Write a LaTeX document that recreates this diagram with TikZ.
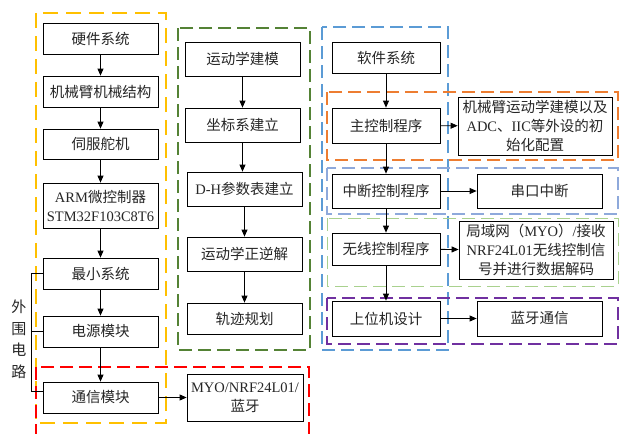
\documentclass[tikz,border=0pt]{standalone}
\usepackage{fontspec}
\setmainfont{Liberation Serif}
\newfontfamily\cjk{Noto Sans CJK SC}
\newcommand{\zh}[1]{{\cjk #1}}
\usetikzlibrary{arrows.meta,calc}
\definecolor{gyellow}{HTML}{FFC000}
\definecolor{ggreen}{HTML}{548235}
\definecolor{gred}{HTML}{FF0000}
\definecolor{gblue}{HTML}{5B9BD5}
\definecolor{gorange}{HTML}{ED7D31}
\definecolor{gperi}{HTML}{8EA9DB}
\definecolor{glgreen}{HTML}{A9D18E}
\definecolor{gpurple}{HTML}{7030A0}
\begin{document}
\begin{tikzpicture}[x=1pt,y=-1pt,
  bx/.style={draw=black,line width=0.8pt,align=center,inner sep=1pt,
    font=\fontsize{14.5pt}{19pt}\selectfont,text=black!85},
  arr/.style={line width=0.8pt,-{Triangle[length=7pt,width=6pt]}},
  grp/.style={line width=1.8pt,dash pattern=on 13pt off 6pt},
  ]
\clip (0,0) rectangle (619,434);
\fill[white] (0,0) rectangle (619,434);
% group frames
\draw[grp,gyellow,dash pattern=on 15pt off 8pt] (36,13) rectangle (166,423);
\draw[grp,ggreen] (178,28) rectangle (310,350);
\draw[grp,gred] (36,367) rectangle (309,445);
\draw[grp,gblue] (322,27) rectangle (448,350);
\draw[grp,gorange] (327,92) rectangle (618,160);
\draw[grp,gperi,line width=1.4pt] (327,168) rectangle (618,214);
\draw[grp,glgreen,line width=1pt] (327,218) rectangle (618,286);
\draw[grp,gpurple] (327,298) rectangle (618,344);
% column 1
\node[bx,minimum width=115pt,minimum height=31pt] (hw) at (100.5,38.5) {\zh{硬件系统}};
\node[bx,minimum width=115pt,minimum height=31pt] (mech) at (100.5,91.5) {\zh{机械臂机械结构}};
\node[bx,minimum width=115pt,minimum height=30pt] (servo) at (100.5,144) {\zh{伺服舵机}};
\node[bx,minimum width=115pt,minimum height=45pt] (arm) at (100.5,205.5) {ARM\zh{微控制器}\\STM32F103C8T6};
\node[bx,minimum width=115pt,minimum height=31pt] (minsys) at (100.5,273.5) {\zh{最小系统}};
\node[bx,minimum width=115pt,minimum height=31pt] (power) at (100.5,331.5) {\zh{电源模块}};
\node[bx,minimum width=115pt,minimum height=31pt] (comm) at (100.5,397.5) {\zh{通信模块}};
\draw[arr] (hw) -- (mech);
\draw[arr] (mech) -- (servo);
\draw[arr] (servo) -- (arm);
\draw[arr] (arm) -- (minsys);
\draw[arr] (minsys) -- (power);
\draw[arr] (power) -- (comm);
% bracket
\coordinate (brx) at (31,0);
\coordinate (comm3) at ([yshift=6pt]comm.west);
\draw[line width=0.8pt] (minsys.west) -| (brx |- comm3) -- (comm3);
\draw[line width=0.8pt] (power.west) -- (power.west -| brx);
\node[align=center,inner sep=0pt,font=\fontsize{15pt}{21.5pt}\selectfont,text=black!85] (wai) at (19,339.5) {\zh{外}\\\zh{围}\\\zh{电}\\\zh{路}};
% column 2
\node[bx,minimum width=115pt,minimum height=34pt] (km) at (242.5,59) {\zh{运动学建模}};
\node[bx,minimum width=115pt,minimum height=34pt] (coord) at (242.5,125) {\zh{坐标系建立}};
\node[bx,minimum width=115pt,minimum height=34pt] (dh) at (244.5,189) {D-H\zh{参数表建立}};
\node[bx,minimum width=115pt,minimum height=34pt] (ik) at (244.5,254) {\zh{运动学正逆解}};
\node[bx,minimum width=115pt,minimum height=31pt] (traj) at (244.5,318.5) {\zh{轨迹规划}};
\node[bx,minimum width=116pt,minimum height=47pt] (myo) at (245,397.5) {MYO/NRF24L01/\\\zh{蓝牙}};
\draw[arr] (km) -- (coord);
\draw[arr] (coord.south) -- (coord.south |- dh.north);
\draw[arr] (dh.south) -- (dh.south |- ik.north);
\draw[arr] (ik) -- (traj);
\draw[arr] (comm) -- (myo);
% column 3
\node[bx,minimum width=108pt,minimum height=31pt] (sw) at (386,57.5) {\zh{软件系统}};
\node[bx,minimum width=108pt,minimum height=35pt] (main) at (386,125.5) {\zh{主控制程序}};
\node[bx,minimum width=154pt,minimum height=58pt] (init) at (535,126) {\zh{机械臂运动学建模以及}\\ADC\zh{、}IIC\zh{等外设的初}\\\zh{始化配置}};
\node[bx,minimum width=108pt,minimum height=34pt] (intr) at (386,191) {\zh{中断控制程序}};
\node[bx,minimum width=125pt,minimum height=34pt] (uart) at (539.5,191) {\zh{串口中断}};
\node[bx,minimum width=108pt,minimum height=32pt] (wl) at (386,249) {\zh{无线控制程序}};
\node[bx,minimum width=154pt,minimum height=58pt] (lan) at (536,250) {\zh{局域网（}MYO\zh{）}/\zh{接收}\\NRF24L01\zh{无线控制信}\\\zh{号并进行数据解码}};
\node[bx,minimum width=108pt,minimum height=35pt] (pc) at (386,318.5) {\zh{上位机设计}};
\node[bx,minimum width=125pt,minimum height=35pt] (bt) at (539.5,318.5) {\zh{蓝牙通信}};
\draw[arr] (sw) -- (main);
\draw[arr] (main) -- (intr);
\draw[arr] (intr) -- (wl);
\draw[arr] (wl) -- (pc);
\draw[arr] (main) -- (init);
\draw[arr] (intr) -- (uart);
\draw[arr] (wl) -- (lan);
\draw[arr] (pc) -- (bt);
\end{tikzpicture}
\end{document}
